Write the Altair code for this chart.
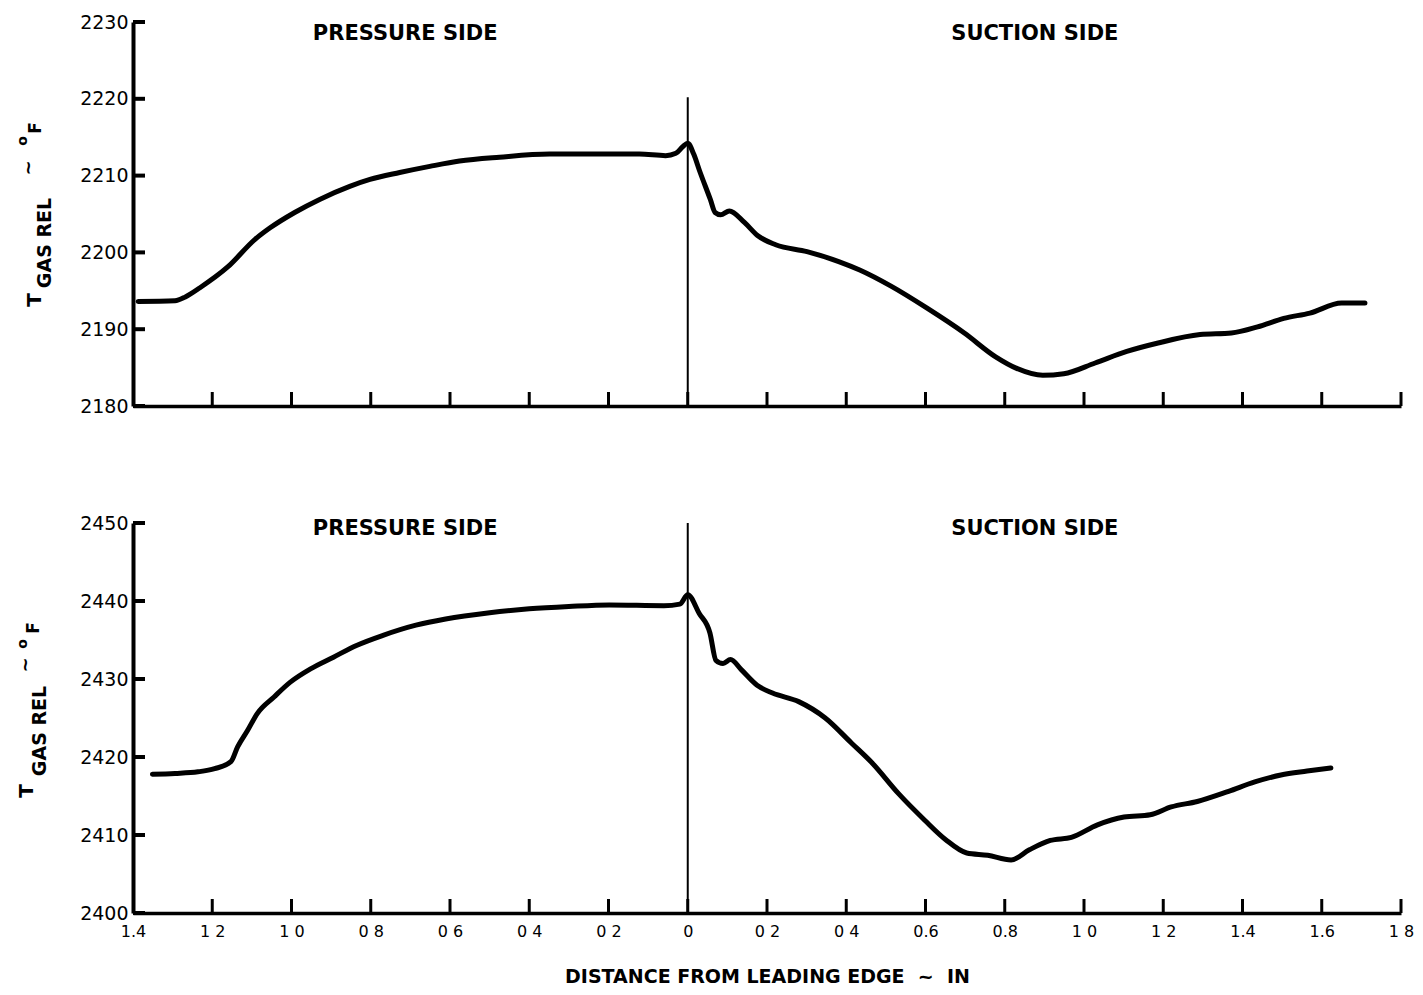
import altair as alt
import pandas as pd

# ---------------- data ----------------
# signed distance: pressure side negative, suction side positive (inches)
top_x = [-1.387, -1.294, -1.268, -1.231, -1.161, -1.092, -1.054, -0.992, -0.929, -0.853,
         -0.802, -0.727, -0.651, -0.576, -0.475, -0.349, -0.223, -0.122, -0.056, -0.03,
         -0.012, 0.0, 0.015, 0.030, 0.057, 0.069, 0.083, 0.105, 0.143, 0.176,
         0.222, 0.301, 0.381, 0.434, 0.513, 0.605, 0.698, 0.777, 0.830, 0.896,
         0.949, 1.028, 1.108, 1.187, 1.293, 1.372, 1.438, 1.504, 1.570, 1.650, 1.709]
top_t = [2193.6, 2193.7, 2194.2, 2195.4, 2198.1, 2201.7, 2203.2, 2205.2, 2206.9, 2208.6,
         2209.5, 2210.4, 2211.2, 2211.9, 2212.4, 2212.8, 2212.8, 2212.8, 2212.6, 2212.9,
         2213.8, 2214.2, 2212.8, 2210.6, 2206.9, 2205.2, 2204.9, 2205.4, 2203.9, 2202.2,
         2201.0, 2200.1, 2198.8, 2197.7, 2195.6, 2192.7, 2189.5, 2186.4, 2184.9, 2184.0,
         2184.2, 2185.6, 2187.1, 2188.2, 2189.3, 2189.5, 2190.3, 2191.4, 2192.1, 2193.4, 2193.4]

bot_x = [-1.351, -1.294, -1.236, -1.194, -1.153, -1.136, -1.111, -1.086, -1.044, -1.003,
         -0.952, -0.894, -0.836, -0.769, -0.686, -0.611, -0.5, -0.4, -0.3, -0.198,
         -0.06, -0.02, 0.0, 0.029, 0.056, 0.071, 0.089, 0.108, 0.135, 0.175,
         0.214, 0.280, 0.347, 0.413, 0.466, 0.532, 0.598, 0.651, 0.704, 0.757,
         0.816, 0.862, 0.915, 0.968, 1.034, 1.101, 1.167, 1.220, 1.286, 1.365,
         1.431, 1.497, 1.563, 1.623]
bot_t = [2417.8, 2417.9, 2418.1, 2418.5, 2419.4, 2421.3, 2423.4, 2425.6, 2427.7, 2429.6,
         2431.3, 2432.8, 2434.3, 2435.6, 2436.9, 2437.7, 2438.5, 2439.0, 2439.3, 2439.5,
         2439.4, 2439.6, 2440.8, 2438.4, 2435.9, 2432.4, 2432.0, 2432.5, 2431.2, 2429.2,
         2428.2, 2427.1, 2425.0, 2421.8, 2419.2, 2415.3, 2411.9, 2409.4, 2407.7, 2407.4,
         2406.8, 2408.1, 2409.3, 2409.7, 2411.3, 2412.3, 2412.6, 2413.6, 2414.3, 2415.6,
         2416.8, 2417.7, 2418.2, 2418.6]

x_ticks = [-1.4, -1.2, -1.0, -0.8, -0.6, -0.4, -0.2, 0.0, 0.2, 0.4, 0.6, 0.8, 1.0, 1.2, 1.4, 1.6, 1.8]
x_tick_labels = ["1.4", "1 2", "1 0", "0 8", "0 6", "0 4", "0 2", "0", "0 2", "0 4",
                 "0.6", "0.8", "1 0", "1 2", "1.4", "1.6", "1 8"]
top_y_ticks = [2180, 2190, 2200, 2210, 2220, 2230]
bot_y_ticks = [2400, 2410, 2420, 2430, 2440, 2450]
side_labels = ["PRESSURE SIDE", "SUCTION SIDE"]
side_label_x = [-0.713, 0.876]
x_title = "DISTANCE FROM LEADING EDGE\u00a0\u00a0~\u00a0\u00a0IN"

FONT = "DejaVu Sans"
W = 1268
H1 = 384
H2 = 390

label_array = "[" + ",".join("'%s'" % s.replace(" ", "\u00a0") for s in x_tick_labels) + "]"
label_expr = label_array + "[round((datum.value + 1.4) * 5)]"

# pixel offsets of the pieces of the y title, relative to each plot's top-left corner
TOP_TITLE = [(-98, 278), (-88, 221), (-104, 146), (-110, 119), (-97, 106)]
BOT_TITLE = [(-106, 268), (-93, 208), (-107, 142), (-110, 121), (-99, 105)]


def ytitle_layers(pos):
    parts = [
        ("T", 20, "bold"),
        ("GAS REL", 19, "bold"),
        ("~", 18, "bold"),
        ("o", 14, "bold"),
        ("F", 17, "bold"),
    ]
    layers = []
    for (txt, fs, fw), (px, py) in zip(parts, pos):
        layers.append(
            alt.Chart(pd.DataFrame({"s": [txt]})).mark_text(
                angle=270, align="center", baseline="middle", font=FONT,
                fontSize=fs, fontWeight=fw, color="black"
            ).encode(text="s:N", x=alt.value(px), y=alt.value(py))
        )
    return layers


def panel(xs, ts, ydom, yticks, h, zero_top, sides, side_y, title_pos, bottom):
    xsc = alt.Scale(domain=[-1.4, 1.8], nice=False, zero=False)
    ysc = alt.Scale(domain=ydom, nice=False, zero=False)
    if bottom:
        xax = alt.Axis(values=x_ticks, labelExpr=label_expr, ticks=False, grid=False,
                       domain=True, domainWidth=3.5, domainColor="black",
                       labelFont=FONT, labelFontSize=16,
                       labelColor="black", labelPadding=10, labelFlush=False,
                       labelOverlap=False, labelBound=False,
                       title=x_title, titleFont=FONT, titleFontSize=19, titleFontWeight="bold",
                       titleColor="black", titlePadding=28)
    else:
        xax = alt.Axis(values=x_ticks, labels=False, ticks=False, grid=False,
                       domain=True, domainWidth=3.5, domainColor="black", title=None)
    yax = alt.Axis(values=yticks, ticks=False, grid=False, domain=True, domainWidth=4,
                   domainColor="black", labelFont=FONT, labelFontSize=19,
                   labelColor="black", labelPadding=5, format="d", title=None)

    df = pd.DataFrame({"x": xs, "t": ts})
    line = alt.Chart(df).mark_line(color="black", strokeWidth=5, interpolate="monotone",
                                   strokeCap="round").encode(
        x=alt.X("x:Q", scale=xsc, axis=xax),
        y=alt.Y("t:Q", scale=ysc, axis=yax),
    )
    xt = alt.Chart(pd.DataFrame({"x": x_ticks[1:]})).mark_rule(
        color="black", strokeWidth=3).encode(
        x=alt.X("x:Q", scale=xsc, axis=xax),
        y=alt.value(h), y2=alt.value(h - 14))
    yt = alt.Chart(pd.DataFrame({"t": yticks})).mark_rule(
        color="black", strokeWidth=4).encode(
        y=alt.Y("t:Q", scale=ysc, axis=yax),
        x=alt.value(0), x2=alt.value(12))
    zero = alt.Chart(pd.DataFrame({"x": [0.0], "t": [zero_top], "t2": [ydom[0]]})).mark_rule(
        color="black", strokeWidth=2).encode(
        x=alt.X("x:Q", scale=xsc, axis=xax),
        y=alt.Y("t:Q", scale=ysc, axis=yax), y2="t2:Q")
    sd = alt.Chart(pd.DataFrame({"s": sides, "x": side_label_x})).mark_text(
        font=FONT, fontSize=21, fontWeight="bold", color="black",
        align="center", baseline="middle").encode(
        x=alt.X("x:Q", scale=xsc, axis=xax), y=alt.value(side_y), text="s:N")
    layers = [zero, line, xt, yt, sd] + ytitle_layers(title_pos)
    return alt.layer(*layers).properties(width=W, height=h)


top = panel(top_x, top_t, [2180, 2230], top_y_ticks, H1, 2220.2, side_labels, 12, TOP_TITLE, False)
bot = panel(bot_x, bot_t, [2400, 2450], bot_y_ticks, H2, 2450, side_labels, 6, BOT_TITLE, True)

chart = alt.vconcat(top, bot, spacing=98).properties(
    padding={"left": 8, "top": 5, "right": 0, "bottom": 0},
    background="white",
).configure_view(stroke=None)

chart.save("out.html", embed_options={"renderer": "svg", "actions": False})
